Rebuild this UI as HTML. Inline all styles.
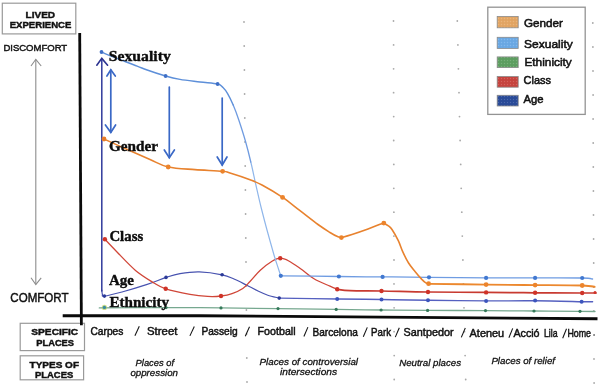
<!DOCTYPE html>
<html lang="en">
<head>
<meta charset="utf-8">
<title>Lived experience by place</title>
<style>
html,body{margin:0;padding:0;background:#fff;}
body{width:600px;height:387px;overflow:hidden;font-family:"Liberation Sans",sans-serif;}
svg{display:block;will-change:transform;filter:blur(0.3px);}
text{fill:#111;}
.s text{font-family:"Liberation Sans",sans-serif;stroke:#111;stroke-width:.45;}
.lg text{stroke-width:.55;}
.sb text{font-family:"Liberation Sans",sans-serif;font-weight:bold;stroke:#111;stroke-width:.45;}
.si text{font-family:"Liberation Sans",sans-serif;font-style:italic;stroke:#111;stroke-width:.3;}
.rb text{font-family:"Liberation Serif",serif;font-weight:bold;fill:#0c0c0c;stroke:#0c0c0c;stroke-width:.4;}
</style>
</head>
<body>
<svg width="600" height="387" viewBox="0 0 600 387">
<rect width="600" height="387" fill="#ffffff"/>
<g fill="#a9a9a9"><circle cx="244.0" cy="22.0" r="0.9"/><circle cx="244.2" cy="46.0" r="0.9"/><circle cx="244.4" cy="70.0" r="0.9"/><circle cx="244.6" cy="94.0" r="0.9"/><circle cx="244.8" cy="118.0" r="0.9"/><circle cx="245.0" cy="142.0" r="0.9"/><circle cx="245.2" cy="166.0" r="0.9"/><circle cx="245.4" cy="190.0" r="0.9"/><circle cx="245.6" cy="214.0" r="0.9"/><circle cx="245.8" cy="238.0" r="0.9"/><circle cx="246.0" cy="262.0" r="0.9"/><circle cx="246.2" cy="286.0" r="0.9"/><circle cx="246.4" cy="310.0" r="0.9"/><circle cx="246.6" cy="334.0" r="0.9"/><circle cx="246.8" cy="358.0" r="0.9"/><circle cx="247.0" cy="382.0" r="0.9"/><circle cx="393.5" cy="21.0" r="0.9"/><circle cx="393.6" cy="44.9" r="0.9"/><circle cx="393.6" cy="68.8" r="0.9"/><circle cx="393.6" cy="92.7" r="0.9"/><circle cx="393.7" cy="116.6" r="0.9"/><circle cx="393.7" cy="140.5" r="0.9"/><circle cx="393.8" cy="164.4" r="0.9"/><circle cx="393.8" cy="188.3" r="0.9"/><circle cx="393.9" cy="212.2" r="0.9"/><circle cx="393.9" cy="236.1" r="0.9"/><circle cx="394.0" cy="260.0" r="0.9"/><circle cx="394.0" cy="283.9" r="0.9"/><circle cx="394.1" cy="307.8" r="0.9"/><circle cx="394.1" cy="331.7" r="0.9"/><circle cx="394.2" cy="355.6" r="0.9"/><circle cx="394.2" cy="379.5" r="0.9"/><circle cx="457.3" cy="21.0" r="0.9"/><circle cx="457.9" cy="44.9" r="0.9"/><circle cx="458.4" cy="68.8" r="0.9"/><circle cx="459.0" cy="92.7" r="0.9"/><circle cx="459.5" cy="116.6" r="0.9"/><circle cx="460.1" cy="140.5" r="0.9"/><circle cx="460.7" cy="164.4" r="0.9"/><circle cx="461.2" cy="188.3" r="0.9"/><circle cx="461.8" cy="212.2" r="0.9"/><circle cx="462.3" cy="236.1" r="0.9"/><circle cx="462.9" cy="260.0" r="0.9"/><circle cx="463.4" cy="283.9" r="0.9"/><circle cx="464.0" cy="307.8" r="0.9"/><circle cx="464.5" cy="331.7" r="0.9"/><circle cx="465.1" cy="355.6" r="0.9"/><circle cx="465.7" cy="379.5" r="0.9"/><circle cx="592.8" cy="23.0" r="0.9"/><circle cx="592.9" cy="47.0" r="0.9"/><circle cx="593.0" cy="71.0" r="0.9"/><circle cx="593.1" cy="95.0" r="0.9"/><circle cx="593.1" cy="119.0" r="0.9"/><circle cx="593.2" cy="143.0" r="0.9"/><circle cx="593.3" cy="167.0" r="0.9"/><circle cx="593.4" cy="191.0" r="0.9"/><circle cx="593.5" cy="215.0" r="0.9"/><circle cx="593.6" cy="239.0" r="0.9"/><circle cx="593.7" cy="263.0" r="0.9"/><circle cx="593.7" cy="287.0" r="0.9"/><circle cx="593.8" cy="311.0" r="0.9"/><circle cx="593.9" cy="335.0" r="0.9"/><circle cx="594.0" cy="359.0" r="0.9"/><circle cx="594.1" cy="383.0" r="0.9"/></g>
<path d="M99.3,307.9 C110.4,307.8 145.7,307.6 166.0,307.6 C186.3,307.6 202.3,307.7 221.0,307.9 C239.7,308.1 258.8,308.4 278.0,308.6 C297.2,308.9 319.0,309.2 336.2,309.4 C353.4,309.6 365.9,309.8 381.1,310.0 C396.3,310.2 410.2,310.3 427.6,310.4 C445.0,310.5 467.8,310.5 485.5,310.6 C503.2,310.7 518.2,310.9 534.0,311.0 C549.8,311.1 569.8,311.2 580.0,311.3 C590.2,311.4 592.5,311.5 595.0,311.5" fill="none" stroke="#76a88f" stroke-width="1.3" stroke-linecap="round" stroke-linejoin="round" />
<circle cx="166.0" cy="307.6" r="1.6" fill="#357a5a"/><circle cx="221.0" cy="307.9" r="1.6" fill="#357a5a"/><circle cx="278.0" cy="308.6" r="1.6" fill="#357a5a"/><circle cx="336.2" cy="309.4" r="1.6" fill="#357a5a"/><circle cx="381.1" cy="310.0" r="1.6" fill="#357a5a"/><circle cx="427.6" cy="310.4" r="1.6" fill="#357a5a"/><circle cx="485.5" cy="310.6" r="1.6" fill="#357a5a"/><circle cx="534.0" cy="311.0" r="1.6" fill="#357a5a"/><circle cx="580.0" cy="311.3" r="1.6" fill="#357a5a"/>
<circle cx="104.4" cy="307.4" r="2.6" fill="#b9cf5a" opacity=".7"/><circle cx="104.4" cy="307.4" r="1.7" fill="#3a8aa0"/>
<path d="M101.8,290.0 C101.9,290.8 102.0,293.5 102.4,294.5 C102.8,295.5 101.1,296.5 104.4,296.1 C107.7,295.7 114.9,293.9 122.0,292.0 C129.1,290.1 139.9,286.8 147.2,284.4 C154.5,282.0 160.5,279.2 166.0,277.4 C171.5,275.6 174.4,274.5 180.0,273.6 C185.6,272.7 192.3,271.7 199.3,271.9 C206.3,272.1 216.3,273.6 222.1,274.8 C227.9,276.0 230.0,277.3 234.0,279.0 C238.0,280.7 242.0,282.8 246.0,284.8 C250.0,286.8 254.4,289.3 258.0,291.0 C261.6,292.7 264.3,294.0 267.8,295.2 C271.3,296.4 277.3,297.6 279.2,298.1" fill="none" stroke="#4853b0" stroke-width="1.2" stroke-linecap="round" stroke-linejoin="round" />
<path d="M279.2,298.1 C288.9,298.2 320.1,298.8 337.2,299.0 C354.2,299.2 366.4,299.3 381.5,299.5 C396.6,299.7 410.6,300.1 428.0,300.3 C445.4,300.5 468.2,300.8 486.1,300.9 C504.0,301.0 519.2,300.7 535.1,300.8 C551.0,300.9 572.0,301.5 581.6,301.7 C591.2,301.9 590.8,301.8 592.6,301.8" fill="none" stroke="#5560c0" stroke-width="1.4" stroke-linecap="round" stroke-linejoin="round" />
<path d="M101.8,59.0 C101.8,97.7 101.8,252.3 101.8,291.0" fill="none" stroke="#303a9c" stroke-width="1.5" stroke-linecap="round" stroke-linejoin="round" />
<path d="M96.8,65.2 L101.8,58.4 L107.6,65.2" fill="none" stroke="#2c3390" stroke-width="1.6" stroke-linecap="round" stroke-linejoin="miter"/>
<circle cx="104.4" cy="296.1" r="1.8" fill="#2b3a98"/><circle cx="166.0" cy="277.4" r="1.8" fill="#2b3a98"/><circle cx="222.1" cy="274.8" r="1.8" fill="#2b3a98"/><circle cx="279.2" cy="298.1" r="1.8" fill="#2b3a98"/>
<circle cx="337.2" cy="299.0" r="2.0" fill="#3c55bd"/><circle cx="381.5" cy="299.5" r="2.0" fill="#3c55bd"/><circle cx="428.0" cy="300.3" r="2.0" fill="#3c55bd"/><circle cx="486.1" cy="300.9" r="2.0" fill="#3c55bd"/><circle cx="535.1" cy="300.6" r="2.0" fill="#3c55bd"/><circle cx="581.6" cy="301.7" r="2.0" fill="#3c55bd"/>
<path d="M104.9,239.3 C106.9,241.4 111.9,246.8 117.0,252.0 C122.1,257.2 129.3,265.2 135.5,270.4 C141.7,275.6 149.0,279.9 154.0,283.0 C159.0,286.1 159.7,286.9 165.7,288.8 C171.7,290.7 183.0,293.0 190.0,294.3 C197.0,295.6 202.4,296.1 207.6,296.4 C212.8,296.7 216.9,296.5 221.0,296.0 C225.1,295.5 228.4,294.9 232.0,293.6 C235.6,292.4 239.8,290.5 242.8,288.5 C245.8,286.5 247.1,284.5 250.0,281.5 C252.9,278.5 256.6,273.7 260.3,270.3 C264.0,266.9 268.7,263.3 272.0,261.3 C275.3,259.3 277.4,258.2 280.2,258.2 C283.0,258.1 285.4,259.2 288.8,261.0 C292.2,262.8 296.4,265.8 300.6,268.7 C304.8,271.6 309.1,275.8 314.0,278.7 C318.9,281.6 326.1,284.4 330.0,286.2 C333.9,288.0 336.0,288.8 337.2,289.3" fill="none" stroke="#d04638" stroke-width="1.3" stroke-linecap="round" stroke-linejoin="round" />
<path d="M337.2,289.3 C339.3,289.5 342.6,290.3 350.0,290.6 C357.4,290.9 368.5,290.8 381.5,291.0 C394.5,291.2 410.6,291.8 428.0,292.0 C445.4,292.2 468.2,292.3 486.1,292.4 C504.0,292.5 519.1,292.7 535.1,292.8 C551.1,292.9 572.1,293.0 582.2,293.0 C592.4,293.0 593.7,293.0 596.0,293.0" fill="none" stroke="#c83a30" stroke-width="1.7" stroke-linecap="round" stroke-linejoin="round" />
<circle cx="104.9" cy="239.3" r="2.2" fill="#cf3328"/><circle cx="165.7" cy="288.8" r="2.2" fill="#cf3328"/><circle cx="221.0" cy="296.0" r="2.2" fill="#cf3328"/><circle cx="280.2" cy="258.2" r="2.2" fill="#cf3328"/><circle cx="337.2" cy="289.3" r="2.2" fill="#cf3328"/><circle cx="381.5" cy="291.0" r="2.2" fill="#cf3328"/><circle cx="428.0" cy="292.0" r="2.2" fill="#cf3328"/><circle cx="486.1" cy="292.4" r="2.2" fill="#cf3328"/><circle cx="535.1" cy="292.8" r="2.2" fill="#cf3328"/><circle cx="582.2" cy="293.0" r="2.2" fill="#cf3328"/>
<circle cx="595" cy="292.6" r="1.5" fill="#cf3328"/>
<path d="M250.8,162.0 C252.6,169.3 254.2,177.5 255.9,185.0 C257.6,192.5 259.1,199.5 261.0,207.0 C262.9,214.5 264.8,222.0 267.0,230.0 C269.2,238.0 272.1,248.5 274.0,255.0 C275.9,261.5 277.4,265.5 278.5,269.0 C279.6,272.5 280.4,274.7 280.8,275.8" fill="none" stroke="#8fb6ea" stroke-width="1.2" stroke-linecap="round" stroke-linejoin="round"/><path d="M233.2,105.0 C235.1,109.4 236.8,114.0 238.8,120.0 C240.8,126.0 243.4,134.0 245.4,141.0 C247.4,148.0 249.1,154.7 250.8,162.0" fill="none" stroke="#6f9be0" stroke-width="1.3" stroke-linecap="round" stroke-linejoin="round"/><path d="M101.5,52.0 C102.7,52.5 102.7,52.9 108.6,55.2 C114.5,57.6 130.7,63.6 137.1,66.1 C143.5,68.6 142.4,68.3 147.2,70.0 C151.9,71.7 160.1,74.4 165.6,76.0 C171.1,77.6 174.3,78.4 180.0,79.4 C185.7,80.4 193.7,81.2 200.0,82.0 C206.3,82.8 213.8,83.1 217.6,84.0 C221.4,84.9 221.3,85.9 223.0,87.5 C224.7,89.1 225.9,90.7 227.6,93.6 C229.3,96.5 231.3,100.6 233.2,105.0" fill="none" stroke="#5d8fd9" stroke-width="1.4" stroke-linecap="round" stroke-linejoin="round"/>
<path d="M280.8,275.8 C290.5,275.9 321.9,276.3 338.9,276.5 C355.9,276.7 367.6,276.8 382.6,276.9 C397.6,277.0 411.8,277.1 429.0,277.3 C446.2,277.5 468.4,277.8 486.1,277.9 C503.8,278.0 519.1,277.9 535.1,277.9 C551.1,277.9 572.6,277.8 582.2,278.0 C591.8,278.2 590.9,278.8 592.6,279.0" fill="none" stroke="#6f9ce2" stroke-width="1.3" stroke-linecap="round" stroke-linejoin="round" />
<circle cx="101.5" cy="52.0" r="1.9" fill="#3f6fc6"/><circle cx="165.6" cy="76.0" r="1.9" fill="#3f6fc6"/><circle cx="217.6" cy="84.0" r="1.9" fill="#3f6fc6"/>
<circle cx="280.8" cy="275.8" r="2.1" fill="#4178d0"/><circle cx="338.9" cy="276.5" r="2.1" fill="#4178d0"/><circle cx="382.6" cy="276.9" r="2.1" fill="#4178d0"/><circle cx="429.0" cy="277.3" r="2.1" fill="#4178d0"/><circle cx="486.1" cy="277.9" r="2.1" fill="#4178d0"/><circle cx="535.1" cy="277.9" r="2.1" fill="#4178d0"/><circle cx="582.2" cy="278.0" r="2.1" fill="#4178d0"/>
<path d="M104.0,139.0 C107.5,140.6 117.3,145.1 125.0,148.5 C132.7,151.9 142.8,156.4 150.0,159.5 C157.2,162.6 160.7,165.3 168.2,167.0 C175.7,168.7 185.9,168.9 195.0,169.6 C204.1,170.3 216.8,170.7 222.6,171.3 C228.4,171.9 225.4,171.6 230.0,173.0 C234.6,174.4 244.7,177.7 250.0,179.7 C255.3,181.7 256.6,182.1 262.0,185.0 C267.4,187.9 276.3,193.1 282.6,197.4 C288.9,201.7 294.1,206.2 300.0,210.7 C305.9,215.2 313.0,220.9 318.0,224.5 C323.0,228.1 326.7,230.4 330.0,232.5 C333.3,234.6 336.1,236.0 338.0,236.8 C339.9,237.7 340.8,237.5 341.4,237.6 C343.2,237.1 347.6,235.9 352.0,234.5 C356.4,233.1 363.3,230.7 368.0,229.0 C372.7,227.3 377.4,225.3 380.0,224.3 C382.6,223.3 383.2,223.3 383.8,223.1 C384.5,223.5 386.6,224.5 388.0,225.6 C389.4,226.7 390.3,227.0 392.0,229.5 C393.7,232.0 396.5,237.0 398.3,240.7 C400.1,244.4 401.0,248.0 402.7,251.7 C404.4,255.4 406.3,259.4 408.4,262.7 C410.4,266.0 412.8,268.7 415.0,271.4 C417.2,274.1 419.9,277.2 421.6,279.1 C423.4,281.0 424.3,281.8 425.5,282.6 C426.7,283.4 428.1,283.7 428.6,283.9" fill="none" stroke="#e8822e" stroke-width="1.6" stroke-linecap="round" stroke-linejoin="round" />
<path d="M428.6,283.9 C438.2,284.0 468.4,284.4 486.1,284.6 C503.9,284.8 519.1,285.0 535.1,285.1 C551.1,285.2 572.3,285.2 582.2,285.5 C592.1,285.8 592.5,286.6 594.6,286.8" fill="none" stroke="#ec882e" stroke-width="1.9" stroke-linecap="round" stroke-linejoin="round" />
<circle cx="104.0" cy="139.0" r="2.4" fill="#ec842c"/><circle cx="168.2" cy="167.0" r="2.4" fill="#ec842c"/><circle cx="222.6" cy="171.3" r="2.4" fill="#ec842c"/><circle cx="282.6" cy="197.4" r="2.4" fill="#ec842c"/><circle cx="341.4" cy="237.6" r="2.4" fill="#ec842c"/><circle cx="383.8" cy="223.1" r="2.4" fill="#ec842c"/><circle cx="428.6" cy="283.7" r="2.4" fill="#ec842c"/><circle cx="486.1" cy="284.6" r="2.4" fill="#ec842c"/><circle cx="535.1" cy="285.1" r="2.4" fill="#ec842c"/><circle cx="582.2" cy="285.5" r="2.4" fill="#ec842c"/>
<circle cx="104.0" cy="139.0" r="1.9" fill="#e5792a"/>
<g fill="none" stroke="#3a68c6" stroke-width="1.7" stroke-linecap="round" stroke-linejoin="miter">
<path d="M110.8,70 V132.2"/>
<path d="M106.9,76 L110.8,69.8 L115.3,76"/>
<path d="M105.4,125 L110.8,132.4 L115.6,125"/>
<path d="M169.3,87 V157.6"/>
<path d="M164.3,150 L169.3,157.8 L174.4,150"/>
<path d="M222.2,98 V164.8"/>
<path d="M217.2,157 L222.2,165 L227,157"/>
</g>
<g fill="none" stroke="#8c8c8c" stroke-width="1.1">
<path d="M35.8,59.5 V284.3"/><path d="M31,66 L35.8,59.3 L41.2,66"/><path d="M31,277.8 L35.8,284.5 L41.2,277.8"/>
</g>
<g fill="#fff" stroke="#9a9a9a" stroke-width="1.2">
<rect x="2.3" y="3.2" width="73.5" height="30.7"/>
<rect x="20.2" y="323.3" width="64.3" height="27.3"/>
<rect x="20.2" y="355.8" width="63.4" height="24"/>
<rect x="487.8" y="7.2" width="97.4" height="107.2" stroke="#939393" stroke-width="1.3"/>
</g>
<path d="M79.7,32.9 L81.4,325.3" stroke="#0a0a0a" stroke-width="2.8" fill="none"/>
<path d="M62.7,315.7 L200,315.7 L597.5,318.8" stroke="#0a0a0a" stroke-width="2.9" fill="none" stroke-linejoin="round"/>
<g class="sb">
<text x="25.5" y="17.8" font-size="9.9" textLength="29.6" lengthAdjust="spacingAndGlyphs">LIVED</text>
<text x="9.7" y="28.3" font-size="9.9" textLength="61.7" lengthAdjust="spacingAndGlyphs">EXPERIENCE</text>
<text x="31.3" y="335.2" font-size="9.5" textLength="46.9" lengthAdjust="spacingAndGlyphs">SPECIFIC</text>
<text x="36.3" y="345.7" font-size="9.5" textLength="37.7" lengthAdjust="spacingAndGlyphs">PLACES</text>
<text x="29.6" y="368.3" font-size="9.5" textLength="49.4" lengthAdjust="spacingAndGlyphs">TYPES OF</text>
<text x="35.0" y="378.3" font-size="9.5" textLength="38.2" lengthAdjust="spacingAndGlyphs">PLACES</text>
</g>
<g class="s">
<text x="3.4" y="50.8" font-size="9.8" textLength="63.8" lengthAdjust="spacingAndGlyphs">DISCOMFORT</text>
<text x="10.3" y="302.3" font-size="12.2" textLength="58.2" lengthAdjust="spacingAndGlyphs">COMFORT</text>
</g><g class="s lg">
<text x="524.0" y="27.2" font-size="11.8" textLength="39.0" lengthAdjust="spacingAndGlyphs">Gender</text>
<text x="524.0" y="47.8" font-size="11.8" textLength="48.8" lengthAdjust="spacingAndGlyphs">Sexuality</text>
<text x="524.4" y="66.0" font-size="11.8" textLength="47.4" lengthAdjust="spacingAndGlyphs">Ethinicity</text>
<text x="523.6" y="84.2" font-size="11.8" textLength="27.4" lengthAdjust="spacingAndGlyphs">Class</text>
<text x="523.4" y="103.4" font-size="11.8" textLength="20.1" lengthAdjust="spacingAndGlyphs">Age</text>
</g><g class="s">
<text x="90.4" y="334.6" font-size="10.3" textLength="33.0" lengthAdjust="spacingAndGlyphs">Carpes</text>
<path d="M134.9,335.7 L139.3,326.3" stroke="#111" stroke-width="1.05" fill="none"/>
<text x="147.0" y="334.7" font-size="10.3" textLength="30.4" lengthAdjust="spacingAndGlyphs">Street</text>
<path d="M189.9,335.9 L194.3,326.5" stroke="#111" stroke-width="1.05" fill="none"/>
<text x="201.4" y="335.0" font-size="10.3" textLength="36.2" lengthAdjust="spacingAndGlyphs">Passeig</text>
<path d="M245.3,336.2 L249.5,326.8" stroke="#111" stroke-width="1.05" fill="none"/>
<text x="257.6" y="335.3" font-size="10.3" textLength="38.0" lengthAdjust="spacingAndGlyphs">Football</text>
<path d="M303.9,336.5 L307.9,327.1" stroke="#111" stroke-width="1.05" fill="none"/>
<text x="312.4" y="335.6" font-size="10.3" textLength="45.6" lengthAdjust="spacingAndGlyphs">Barcelona</text>
<path d="M363.3,336.8 L367.3,327.4" stroke="#111" stroke-width="1.05" fill="none"/>
<text x="371.0" y="335.9" font-size="10.3" textLength="20.0" lengthAdjust="spacingAndGlyphs">Park</text>
<path d="M395.3,337.1 L399.3,327.7" stroke="#111" stroke-width="1.05" fill="none"/>
<text x="403.6" y="336.1" font-size="10.3" textLength="50.0" lengthAdjust="spacingAndGlyphs">Santpedor</text>
<path d="M461.3,337.4 L465.3,328.0" stroke="#111" stroke-width="1.05" fill="none"/>
<text x="469.6" y="336.6" font-size="10.3" textLength="34.6" lengthAdjust="spacingAndGlyphs">Ateneu</text>
<path d="M508.9,337.8 L512.7,328.4" stroke="#111" stroke-width="1.05" fill="none"/>
<text x="513.4" y="336.9" font-size="10.3" textLength="26.2" lengthAdjust="spacingAndGlyphs">Acci&#243;</text>
<text x="544.0" y="337.0" font-size="10.3" textLength="13.6" lengthAdjust="spacingAndGlyphs">Lila</text>
<path d="M562.7,338.2 L566.5,328.8" stroke="#111" stroke-width="1.05" fill="none"/>
<text x="567.4" y="337.1" font-size="10.3" textLength="23.6" lengthAdjust="spacingAndGlyphs">Home</text>
</g>
<g class="si">
<text x="135.6" y="366.0" font-size="9.9" textLength="38.4" lengthAdjust="spacingAndGlyphs">Places of</text>
<text x="130.4" y="376.0" font-size="9.9" textLength="47.6" lengthAdjust="spacingAndGlyphs">oppression</text>
<text x="259.6" y="365.2" font-size="9.9" textLength="98.4" lengthAdjust="spacingAndGlyphs">Places of controversial</text>
<text x="280.0" y="375.2" font-size="9.9" textLength="57.0" lengthAdjust="spacingAndGlyphs">intersections</text>
<text x="399.2" y="366.0" font-size="9.9" textLength="61.8" lengthAdjust="spacingAndGlyphs">Neutral places</text>
<text x="491.4" y="363.6" font-size="9.9" textLength="63.6" lengthAdjust="spacingAndGlyphs">Places of relief</text>
</g>
<g class="rb">
<text x="108.8" y="61.0" font-size="15.6" textLength="62.0" lengthAdjust="spacingAndGlyphs">Sexuality</text>
<text x="108.9" y="150.5" font-size="15.6" textLength="49.2" lengthAdjust="spacingAndGlyphs">Gender</text>
<text x="109.4" y="240.6" font-size="15.6" textLength="33.8" lengthAdjust="spacingAndGlyphs">Class</text>
<text x="108.9" y="285.2" font-size="15.6" textLength="25.0" lengthAdjust="spacingAndGlyphs">Age</text>
<text x="109.4" y="306.8" font-size="15.6" textLength="59.6" lengthAdjust="spacingAndGlyphs">Ethnicity</text>
</g>
<defs><pattern id="tx" width="3" height="3" patternUnits="userSpaceOnUse"><rect x="0" y="0" width="1" height="1" fill="#fff" opacity=".16"/><rect x="1.5" y="1.5" width="1" height="1" fill="#000" opacity=".07"/></pattern></defs>
<rect x="497.2" y="16.5" width="21" height="11.3" fill="#e4a765" stroke="#8a8a8a" stroke-width=".8"/>
<rect x="497.6" y="16.9" width="20.2" height="10.5" fill="url(#tx)"/>
<rect x="497.2" y="37.3" width="21" height="11.1" fill="#6caae6" stroke="#8a8a8a" stroke-width=".8"/>
<rect x="497.6" y="37.7" width="20.2" height="10.3" fill="url(#tx)"/>
<rect x="497.2" y="56.9" width="21" height="10.7" fill="#5fa062" stroke="#8a8a8a" stroke-width=".8"/>
<rect x="497.6" y="57.3" width="20.2" height="9.9" fill="url(#tx)"/>
<rect x="497.2" y="76.5" width="21" height="10.7" fill="#c8453f" stroke="#8a8a8a" stroke-width=".8"/>
<rect x="497.6" y="76.9" width="20.2" height="9.9" fill="url(#tx)"/>
<rect x="497.2" y="95.3" width="21" height="10.7" fill="#2b4c9a" stroke="#8a8a8a" stroke-width=".8"/>
<rect x="497.6" y="95.7" width="20.2" height="9.9" fill="url(#tx)"/>
<circle cx="594.2" cy="335" r=".7" fill="#555"/>
</svg>
</body>
</html>
